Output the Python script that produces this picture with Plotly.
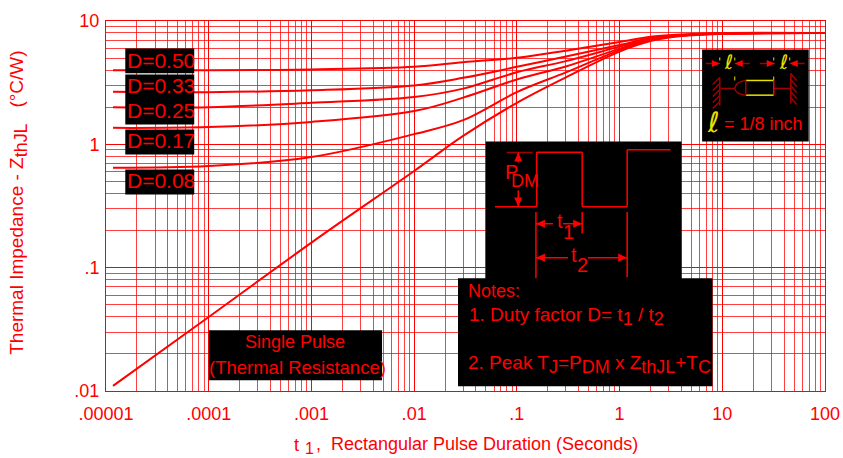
import plotly.graph_objects as go

# pulse duration in seconds, shared by the D curves
t_sec = [1.17e-5, 1e-4, 1e-3, 1e-2, 0.03, 0.1, 0.3, 1, 2, 4, 10, 100]
z_d50 = [3.98, 3.98, 4.05, 4.25, 4.64, 5.03, 5.75, 6.75, 7.45, 7.76, 7.98, 7.98]
z_d33 = [2.67, 2.65, 2.74, 3.00, 3.46, 4.25, 5.15, 6.38, 7.27, 7.69, 7.93, 7.98]
z_d25 = [2.00, 2.00, 2.17, 2.42, 2.83, 3.84, 4.73, 6.20, 7.20, 7.67, 7.92, 7.98]
z_d17 = [1.36, 1.38, 1.52, 1.86, 2.39, 3.36, 4.28, 5.97, 7.13, 7.64, 7.90, 7.98]
z_d08 = [0.646, 0.667, 0.789, 1.21, 1.57, 2.65, 3.83, 5.81, 7.00, 7.62, 7.89, 7.98]
z_single = [0.011, 0.0398, 0.1595, 0.608, 1.17, 2.17, 3.49, 5.65, 6.87, 7.55, 7.86, 7.98]

x_tickvals = [1e-5, 1e-4, 1e-3, 1e-2, 1e-1, 1, 10, 100]
x_ticktext = [".00001", ".0001", ".001", ".01", ".1", "1", "10", "100"]
y_tickvals = [0.01, 0.1, 1, 10]
y_ticktext = [".01", ".1", "1", "10"]

RED = "#ff0000"
DARK = "#a00000"
YEL = "#e8e000"
FONT = "Liberation Sans"

# frame of the plot area, in window pixels
LEFT, RIGHT, TOP, BOTTOM = 105.7, 825.3, 20.5, 390.7
FIG_W, FIG_H = 843, 458


def fx(px):
    return (px - LEFT) / (RIGHT - LEFT)


def fy(py):
    return (BOTTOM - py) / (BOTTOM - TOP)


shapes = []
notes = []


def box(x0, y0, x1, y1):
    shapes.append(dict(type="rect", xref="paper", yref="paper", x0=fx(x0), x1=fx(x1),
                       y0=fy(y0), y1=fy(y1), fillcolor="black", line_width=0))


def seg(x0, y0, x1, y1, color=RED, width=1.5):
    shapes.append(dict(type="line", xref="paper", yref="paper", x0=fx(x0), x1=fx(x1),
                       y0=fy(y0), y1=fy(y1), line=dict(color=color, width=width)))


def tri(x, y, dx, dy, color=RED):
    # arrow head with its tip at x,y pointing along dx,dy
    a = (x - dx - dy * 0.45, y - dy - dx * 0.45)
    b = (x - dx + dy * 0.45, y - dy + dx * 0.45)
    path = "M %f %f L %f %f L %f %f Z" % (fx(x), fy(y), fx(a[0]), fy(a[1]), fx(b[0]), fy(b[1]))
    shapes.append(dict(type="path", xref="paper", yref="paper", path=path,
                       fillcolor=color, line_width=0))


def note(px, py, text, size=18, color=RED, anchor="left", angle=0, family=FONT):
    notes.append(dict(x=fx(px), y=fy(py), xref="paper", yref="paper", text=text, showarrow=False,
                      xanchor=anchor, yanchor="middle", textangle=angle, borderpad=0,
                      font=dict(family=family, size=size, color=color)))


def sub(s):
    return '<sub><span style="font-size:135%%">%s</span></sub>' % s


# black label boxes on top of the curves
box(125, 48, 194, 72.7)
box(125, 74, 194, 124)
box(125, 129, 194, 154)
box(125, 169, 194, 194)
box(208.7, 330, 382, 380)
box(485.7, 141, 681.7, 279)
box(458, 278, 712.7, 386)
box(702.3, 49, 809, 141)

for y, label in [(60, "D=0.50"), (85, "D=0.33"), (110, "D=0.25"), (140.5, "D=0.17"), (180.5, "D=0.08")]:
    note(126, y, label, size=21)

note(295, 342, "Single Pulse", anchor="center")
note(297, 367, "(Thermal Resistance)", anchor="center", size=18.5)

# pulse train sketch
wave = [(495, 206.3), (536.7, 206.3), (536.7, 151.7), (582.3, 151.7), (582.3, 206.3),
        (627.3, 206.3), (627.3, 149.3), (670.7, 149.3)]
for p, q in zip(wave, wave[1:]):
    seg(p[0], p[1], q[0], q[1])
seg(506.7, 152, 532.7, 152, DARK)
seg(518.3, 162, 518.3, 152)
tri(518.3, 152, 0, -9)
seg(518.3, 190, 518.3, 206)
tri(518.3, 206, 0, 9)
note(504, 172, "P", size=20)
note(510, 181, "DM", size=18)

seg(536, 211.7, 536, 278)
seg(582.3, 211.7, 582.3, 233)
seg(627.3, 211.7, 627.3, 277)
seg(536, 223.3, 553, 223.3)
tri(536, 223.3, -9, 0)
seg(563, 223.3, 582, 223.3)
tri(582.3, 223.3, 9, 0)
note(556, 221, "t", size=20)
note(562, 232, "1", size=20)
seg(536, 257.3, 568, 257.3)
tri(536, 257.3, -9, 0)
seg(588, 257.3, 627, 257.3)
tri(627.3, 257.3, 9, 0)
note(570, 255, "t", size=20)
note(576, 265, "2", size=20)

# notes
note(467, 291, "Notes:")
note(468, 316, "1. Duty factor D= t" + sub("1") + " / t" + sub("2"), size=19)
note(467, 364, "2. Peak T" + sub("J") + "=P" + sub("DM") + " x Z" + sub("thJL") + "+T" + sub("C"), size=19)

# lead length sketch
seg(706, 63, 720, 63, DARK)
tri(720, 63, 8, 0)
seg(735, 63, 750, 63, DARK)
tri(735, 63, -8, 0)
seg(760, 63, 775, 63, DARK)
tri(775, 63, 8, 0)
seg(790, 63, 805, 63, DARK)
tri(790, 63, -8, 0)
for xt in [720, 735, 774, 790]:
    seg(xt, 57, xt, 60, YEL, 1)
for xt in [735, 774]:
    seg(xt, 76, xt, 80, YEL, 1)
note(728.5, 62, "ℓ", size=20, color=YEL, anchor="center", family="DejaVu Sans")
note(783.5, 62, "ℓ", size=20, color=YEL, anchor="center", family="DejaVu Sans")
seg(720, 77, 720, 105, DARK)
seg(791, 73, 791, 103, DARK)
for i in range(5):
    seg(720, 77 + i * 6, 713, 84 + i * 6, DARK)
    seg(791, 73 + i * 6, 797, 80 + i * 6, DARK)
seg(721, 88, 735, 88, DARK)
seg(774, 88, 791, 88, DARK)
seg(746, 80, 774, 80, YEL)
seg(746, 94.7, 774, 94.7, YEL)
seg(774, 80, 774, 94.7, RED)
seg(746, 80, 746, 94.7, DARK)
dome = "M %f %f Q %f %f %f %f Q %f %f %f %f" % (fx(746), fy(80), fx(736), fy(81), fx(735), fy(88),
                                               fx(736), fy(94), fx(746), fy(94.7))
shapes.append(dict(type="path", xref="paper", yref="paper", path=dome, line=dict(color=DARK, width=1.5)))
note(714, 122, "ℓ", size=28, color=YEL, anchor="center", family="DejaVu Sans")
note(723, 124, "= 1/8 inch", size=18)

# axis titles
note(18, 202, "Thermal Impedance - Z" + sub("thJL") + "   (°C/W)", size=19, anchor="center", angle=-90)
note(293, 445, "t", size=18)
note(304, 448.5, "1", size=16)
note(315, 444, ",", size=18)
note(330, 444, "Rectangular Pulse Duration (Seconds)", size=18)

fig = go.Figure()
for z in [z_d50, z_d33, z_d25, z_d17, z_d08, z_single]:
    fig.add_trace(go.Scatter(x=t_sec, y=z, mode="lines", showlegend=False,
                             line=dict(color=RED, width=2, shape="spline", smoothing=1)))

axis_style = dict(
    type="log",
    showgrid=True,
    gridcolor=RED,
    gridwidth=1,
    minor=dict(showgrid=True, gridcolor="rgba(255,0,0,0.75)", gridwidth=1, dtick="D1", ticks=""),
    showline=True,
    linecolor=RED,
    linewidth=1,
    mirror=True,
    ticks="",
    tickfont=dict(family=FONT, size=18, color=RED),
)

fig.update_xaxes(range=[-5, 2], tickvals=x_tickvals, ticktext=x_ticktext, ticklabelstandoff=6, **axis_style)
fig.update_yaxes(range=[-2, 1], tickvals=y_tickvals, ticktext=y_ticktext, ticklabelstandoff=2, **axis_style)

fig.update_layout(
    width=FIG_W,
    height=FIG_H,
    margin=dict(l=LEFT, r=FIG_W - RIGHT, t=TOP, b=FIG_H - BOTTOM, autoexpand=False),
    paper_bgcolor="white",
    plot_bgcolor="white",
    shapes=shapes,
    annotations=notes,
)

# the default page margin would push the fixed-size figure out of the window
fig.write_html("out.html", config={"displayModeBar": False},
               post_script="document.body.style.margin = '0';")
